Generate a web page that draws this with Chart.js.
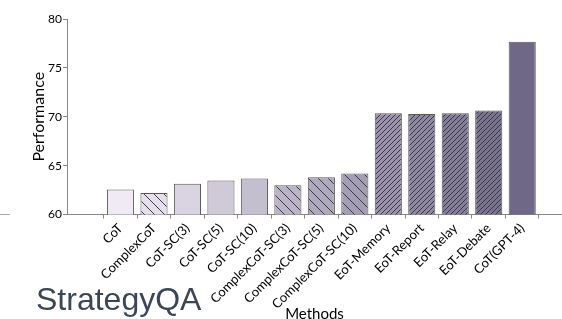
<!DOCTYPE html>
<html><head><meta charset="utf-8">
<script src="https://cdn.jsdelivr.net/npm/chart.js@4"></script>
<style>
html,body{margin:0;padding:0;background:#fff;}
#wrap{position:relative;width:562px;height:319px;overflow:hidden;}
#c{position:absolute;left:0;top:0;}
#panel{position:absolute;left:36px;top:283px;font-family:"Liberation Sans",Arial,sans-serif;font-size:32px;line-height:1;color:#3b4657;white-space:nowrap;}
#stray{position:absolute;left:0;top:214px;width:10px;height:0;border-top:1px solid #aaa;}
</style></head>
<body>
<div id="wrap">
<canvas id="c" width="562" height="319"></canvas>
<div id="stray"></div>
<div id="panel">StrategyQA</div>
</div>
<script>
const methods = ['CoT','ComplexCoT','CoT-SC(3)','CoT-SC(5)','CoT-SC(10)','ComplexCoT-SC(3)','ComplexCoT-SC(5)','ComplexCoT-SC(10)','EoT-Memory','EoT-Report','EoT-Relay','EoT-Debate','CoT(GPT-4)'];
const performance = [62.57,62.2,63.14,63.49,63.69,62.98,63.8,64.2,70.36,70.29,70.36,70.63,77.67];
const yTicks = [60,65,70,75,80];
const hatchKinds = ['none','back','none','none','none','back','back','back','fwd','fwd','fwd','fwd','none'];
const fillColors = ['#efeaf4','#e4dfeb','#dad4e2','#cfc9d8','#c4bfcf','#bab4c6','#afa9bd','#a49eb4','#9a93ab','#8f88a1','#847e98','#7a738f','#6f6886'];

function hatch(color, kind){
  if(kind==='none') return color;
  const s = kind==='back' ? 10 : 5;
  const c = document.createElement('canvas'); c.width=s; c.height=s;
  const g = c.getContext('2d');
  g.fillStyle=color; g.fillRect(0,0,s,s);
  g.strokeStyle = kind==='back' ? '#3c3a45' : '#3a3646';
  g.lineWidth = 1;
  g.beginPath();
  if(kind==='back'){
    g.moveTo(0,0); g.lineTo(s,s);
    g.moveTo(-1,s-1); g.lineTo(1,s+1);
    g.moveTo(s-1,-1); g.lineTo(s+1,1);
  } else {
    g.moveTo(0,s); g.lineTo(s,0);
    g.moveTo(-1,1); g.lineTo(1,-1);
    g.moveTo(s-1,s+1); g.lineTo(s+1,s-1);
  }
  g.stroke();
  return g.createPattern(c,'repeat');
}

const ctx = document.getElementById('c').getContext('2d');
new Chart(ctx, {
  type:'bar',
  data:{
    datasets:[{
      data: methods.map((m,i)=>({x:i, y:performance[i]})),
      backgroundColor: fillColors.map((c,i)=>hatch(c, hatchKinds[i])),
      borderColor:'#5a5a5a',
      borderWidth:1,
      categoryPercentage:0.9,
      barPercentage:0.9
    }]
  },
  options:{
    responsive:false,
    animation:false,
    layout:{padding:{left:29,top:19,right:0,bottom:0}},
    plugins:{legend:{display:false}, tooltip:{enabled:false}},
    scales:{
      x:{
        type:'linear', min:-1.03, max:12.62,
        afterBuildTicks: s => { s.ticks = methods.map((_,i)=>({value:i})); },
        afterFit: s => { s.height = 104.5; },
        ticks:{autoSkip:false, minRotation:45, maxRotation:45, color:'#000', padding:2,
          font:{family:'Lato', size:13}, callback:(v)=>methods[v]},
        grid:{display:true, drawOnChartArea:false, drawTicks:true, tickLength:4, color:'#888'},
        border:{color:'#888', width:1},
        title:{display:true, text:'Methods', color:'#000', font:{family:'Lato', size:15}, padding:{top:0,bottom:-4}}
      },
      y:{
        min:60, max:80,
        afterBuildTicks: s => { s.ticks = yTicks.map(v=>({value:v})); },
        afterFit: s => { s.width = 38; },
        ticks:{color:'#000', padding:1, font:{family:'Lato', size:12}},
        grid:{display:true, drawOnChartArea:false, tickLength:4, color:'#888'},
        border:{color:'#888', width:1},
        title:{display:true, text:'Performance', color:'#000', font:{family:'Lato', size:16}, padding:0}
      }
    }
  }
});
</script>
</body></html>
